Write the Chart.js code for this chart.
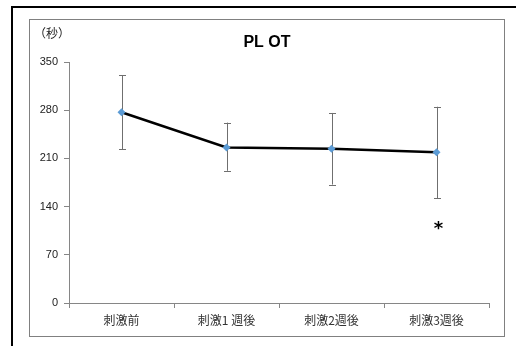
<!DOCTYPE html>
<html>
<head>
<meta charset="utf-8">
<script src="https://cdn.jsdelivr.net/npm/chart.js@4"></script>
<style>
  html, body { margin: 0; padding: 0; background: #fff; overflow: hidden; }
  #wrap { position: relative; width: 516px; height: 346px; }
  #outer { position: absolute; left: 11px; top: 6px; width: 600px; height: 400px; border: 2px solid #000; box-sizing: border-box; }
  #inner { position: absolute; left: 29px; top: 19px; width: 476px; height: 318px; border: 1px solid #808080; box-sizing: border-box; }
  #chart { position: absolute; left: 0; top: 0; }
</style>
</head>
<body>
<div id="wrap">
  <div id="outer"></div>
  <div id="inner"></div>
  <canvas id="chart" width="516" height="346"></canvas>
</div>
<script>
const categories = ["刺激前", "刺激1 週後", "刺激2週後", "刺激3週後"];
const means = [277, 226, 224, 219];
const errUpper = [331, 262, 276, 285];
const errLower = [223, 192, 172, 152];
const markText = ["", "", "", "*"];
const markValue = [null, null, null, 111];
const yTicks = [0, 70, 140, 210, 280, 350];

const axisGray = "#868686";
const labelFont = "'Noto Sans CJK JP', 'Liberation Sans', sans-serif";

const errorBars = {
    id: "errorBars",
    beforeDatasetsDraw(chart) {
        const ctx = chart.ctx;
        const x = chart.scales.x;
        const y = chart.scales.y;
        ctx.save();
        ctx.strokeStyle = "#6f6f6f";
        ctx.lineWidth = 1;
        means.forEach((m, i) => {
            const px = Math.round(x.getPixelForValue(i)) + 0.5;
            const top = y.getPixelForValue(errUpper[i]);
            const bot = y.getPixelForValue(errLower[i]);
            ctx.beginPath();
            ctx.moveTo(px, top);
            ctx.lineTo(px, bot);
            ctx.moveTo(px - 3.5, Math.round(top) + 0.5);
            ctx.lineTo(px + 3.5, Math.round(top) + 0.5);
            ctx.moveTo(px - 3.5, Math.round(bot) + 0.5);
            ctx.lineTo(px + 3.5, Math.round(bot) + 0.5);
            ctx.stroke();
        });
        ctx.restore();
    },
    afterDraw(chart) {
        const ctx = chart.ctx;
        const x = chart.scales.x;
        const y = chart.scales.y;
        ctx.save();
        ctx.fillStyle = "#000";
        ctx.textAlign = "center";
        ctx.textBaseline = "middle";
        ctx.font = "bold 18px 'DejaVu Sans', sans-serif";
        markText.forEach((t, i) => {
            if (!t) return;
            ctx.fillText(t, x.getPixelForValue(i) + 2, y.getPixelForValue(markValue[i]) + 3);
        });
        ctx.font = "bold 16px 'Liberation Sans', 'Noto Sans', sans-serif";
        ctx.fillText("PL OT", 267, 43);
        ctx.font = "12px " + labelFont;
        ctx.fillStyle = "#222";
        ctx.fillText("（秒）", 52, 33);
        ctx.restore();
    }
};

new Chart(document.getElementById("chart"), {
    type: "line",
    data: {
        labels: categories,
        datasets: [{
            data: means,
            borderColor: "#000",
            borderWidth: 2.5,
            pointStyle: "rectRot",
            pointRadius: 4,
            pointBackgroundColor: "#5b9bd5",
            pointBorderColor: "#5b9bd5",
            pointBorderWidth: 0,
            tension: 0
        }]
    },
    options: {
        responsive: false,
        animation: false,
        layout: { padding: { left: 0, right: 27, top: 62, bottom: 0 } },
        plugins: { legend: { display: false }, tooltip: { enabled: false } },
        scales: {
            x: {
                type: "category",
                offset: true,
                grid: { drawOnChartArea: false, drawTicks: true, tickLength: 5, tickColor: axisGray, offset: true },
                border: { color: axisGray, width: 1 },
                ticks: { color: "#333", font: { family: labelFont, size: 12 }, padding: 5, maxRotation: 0 },
                afterFit(scale) { scale.height = 43; }
            },
            y: {
                min: 0,
                max: 350,
                afterBuildTicks(scale) { scale.ticks = yTicks.map(v => ({ value: v })); },
                grid: { drawOnChartArea: false, drawTicks: true, tickLength: 5, tickColor: axisGray },
                border: { color: axisGray, width: 1 },
                ticks: { color: "#222", font: { family: "'Liberation Sans', sans-serif", size: 11 }, padding: 6 },
                afterFit(scale) { scale.width = 69; }
            }
        }
    },
    plugins: [errorBars]
});
</script>
</body>
</html>
